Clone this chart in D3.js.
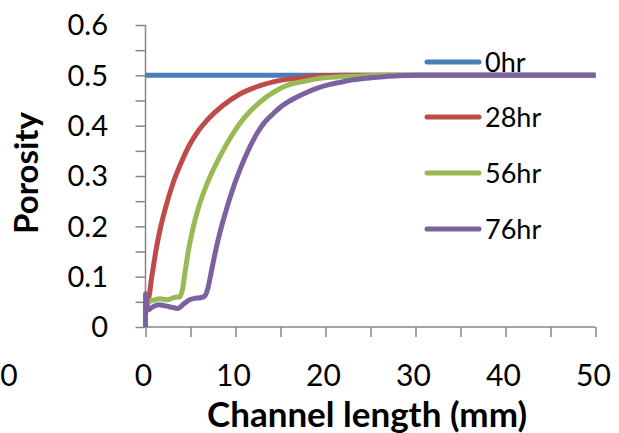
<!DOCTYPE html>
<html><head><meta charset="utf-8">
<script src="https://cdn.jsdelivr.net/npm/d3@7"></script>
<style>body{margin:0;background:#fff}svg{display:block}text{font-family:Lato,"Open Sans",sans-serif;fill:#000}</style>
</head><body><svg id="c" width="619" height="433"></svg>
<script>
const seriesNames = ["0hr","28hr","56hr","76hr"];
const seriesColors = ["#4A7EBB","#BE4B48","#98B954","#7D60A0"];
const x0hr = [0, 50];
const y0hr = [0.5, 0.5];
const x28hr = [0, 0.3, 0.7, 1.24, 1.7, 2.17, 3.1, 4, 4.9, 5.8, 6.8, 8.6, 10.5, 11.6, 13, 14.2, 15.3, 17.9, 19, 22, 25, 30, 40, 50];
const y28hr = [0.05, 0.054, 0.1, 0.16, 0.2, 0.233, 0.288, 0.328, 0.362, 0.388, 0.41, 0.44, 0.463, 0.472, 0.481, 0.487, 0.491, 0.496, 0.498, 0.5, 0.5, 0.5, 0.5, 0.5];
const x56hr = [0, 0.5, 1, 1.6, 2.4, 3.3, 3.8, 4.1, 4.4, 4.8, 5.3, 5.9, 6.8, 7.6, 8.6, 9.5, 10.5, 11.6, 13, 14.2, 15.3, 17.9, 19, 21.6, 23, 26, 30, 40, 50];
const y56hr = [0.046, 0.051, 0.054, 0.056, 0.054, 0.059, 0.06, 0.074, 0.11, 0.155, 0.198, 0.238, 0.283, 0.315, 0.35, 0.378, 0.405, 0.428, 0.451, 0.466, 0.477, 0.489, 0.493, 0.497, 0.498, 0.5, 0.5, 0.5, 0.5];
const x76hr = [0, 0.01, 0.3, 0.8, 1.5, 2.2, 3.0, 3.6, 4.2, 4.9, 5.5, 6.1, 6.6, 6.9, 7.35, 7.8, 8.3, 8.8, 9.4, 10.5, 11.6, 12.5, 13.3, 14.2, 15.3, 16.5, 17.9, 19, 20.5, 21.6, 22.7, 24.5, 26.4, 28, 30, 35, 40, 50];
const y76hr = [0, 0.066, 0.034, 0.040, 0.044, 0.042, 0.039, 0.037, 0.045, 0.054, 0.057, 0.058, 0.062, 0.075, 0.113, 0.152, 0.19, 0.222, 0.258, 0.313, 0.358, 0.388, 0.408, 0.424, 0.441, 0.454, 0.466, 0.474, 0.482, 0.486, 0.49, 0.494, 0.497, 0.499, 0.5, 0.5, 0.5, 0.5];
const xTicks = [0, 10, 20, 30, 40, 50];
const yTicks = [0, 0.1, 0.2, 0.3, 0.4, 0.5, 0.6];
const xTitle = "Channel length (mm)";
const yTitle = "Porosity";

const svg = d3.select("#c");
const x = d3.scaleLinear().domain([0, 50]).range([145.5, 595.5]);
const y = d3.scaleLinear().domain([0, 0.6]).range([327, 25]);
const axisColor = "#868686";

// y axis
const ya = svg.append("g").attr("transform", `translate(${x(0)},0)`)
  .call(d3.axisLeft(y).tickValues(d3.range(0, 0.6001, 0.05)).tickSize(10).tickFormat(""));
ya.selectAll("path,line").attr("stroke", axisColor).attr("stroke-width", 1.5);
ya.select("path").attr("d", `M0,${y(0.6)}V${y(0)}`);
svg.append("g").selectAll("text").data(yTicks).join("text")
  .attr("x", 108).attr("y", d => y(d)).attr("dy", "0.36em").attr("text-anchor", "end")
  .attr("font-size", 29).text(d => d === 0 ? "0" : d3.format(".1f")(d));

// x axis
const xa = svg.append("g").attr("transform", `translate(0,${y(0)})`)
  .call(d3.axisBottom(x).tickValues(d3.range(0, 50.001, 5)).tickSize(10).tickFormat(""));
xa.selectAll("path,line").attr("stroke", axisColor).attr("stroke-width", 1.5);
xa.select("path").attr("d", `M${x(0)},0H${x(50)}`);
svg.append("g").selectAll("text").data(xTicks).join("text")
  .attr("x", d => x(d) - 2).attr("y", 375).attr("dy", "0.36em").attr("text-anchor", "middle")
  .attr("font-size", 30).text(d => d);
svg.append("text").attr("x", 9).attr("y", 375).attr("dy", "0.36em").attr("text-anchor", "middle")
  .attr("font-size", 30).text("0");

// titles
svg.append("text").attr("x", 367).attr("y", 427).attr("text-anchor", "middle")
  .attr("font-size", 35).attr("font-weight", "bold").text(xTitle);
svg.append("text").attr("transform", "translate(38,173) rotate(-90)").attr("text-anchor", "middle")
  .attr("font-size", 33).attr("font-weight", "bold").text(yTitle);

// lines
const xs = [x0hr, x28hr, x56hr, x76hr];
const ys = [y0hr, y28hr, y56hr, y76hr];
const line = d3.line().x(d => x(d[0])).y(d => y(d[1])).curve(d3.curveMonotoneX);
seriesNames.forEach((n, i) => {
  const pts = xs[i].map((v, j) => [v, ys[i][j]]);
  svg.append("path").datum(pts).attr("d", line).attr("fill", "none")
    .attr("stroke", seriesColors[i]).attr("stroke-width", 5).attr("stroke-linejoin", "round");
});

// legend
const legY = [62, 117, 173, 229];
const lg = svg.append("g");
seriesNames.forEach((n, i) => {
  lg.append("line").attr("x1", 427).attr("x2", 479).attr("y1", legY[i]).attr("y2", legY[i])
    .attr("stroke", seriesColors[i]).attr("stroke-width", 5).attr("stroke-linecap", "round");
  lg.append("text").attr("x", 485).attr("y", legY[i]).attr("dy", "0.36em")
    .attr("font-size", 27).text(n);
});
</script></body></html>
